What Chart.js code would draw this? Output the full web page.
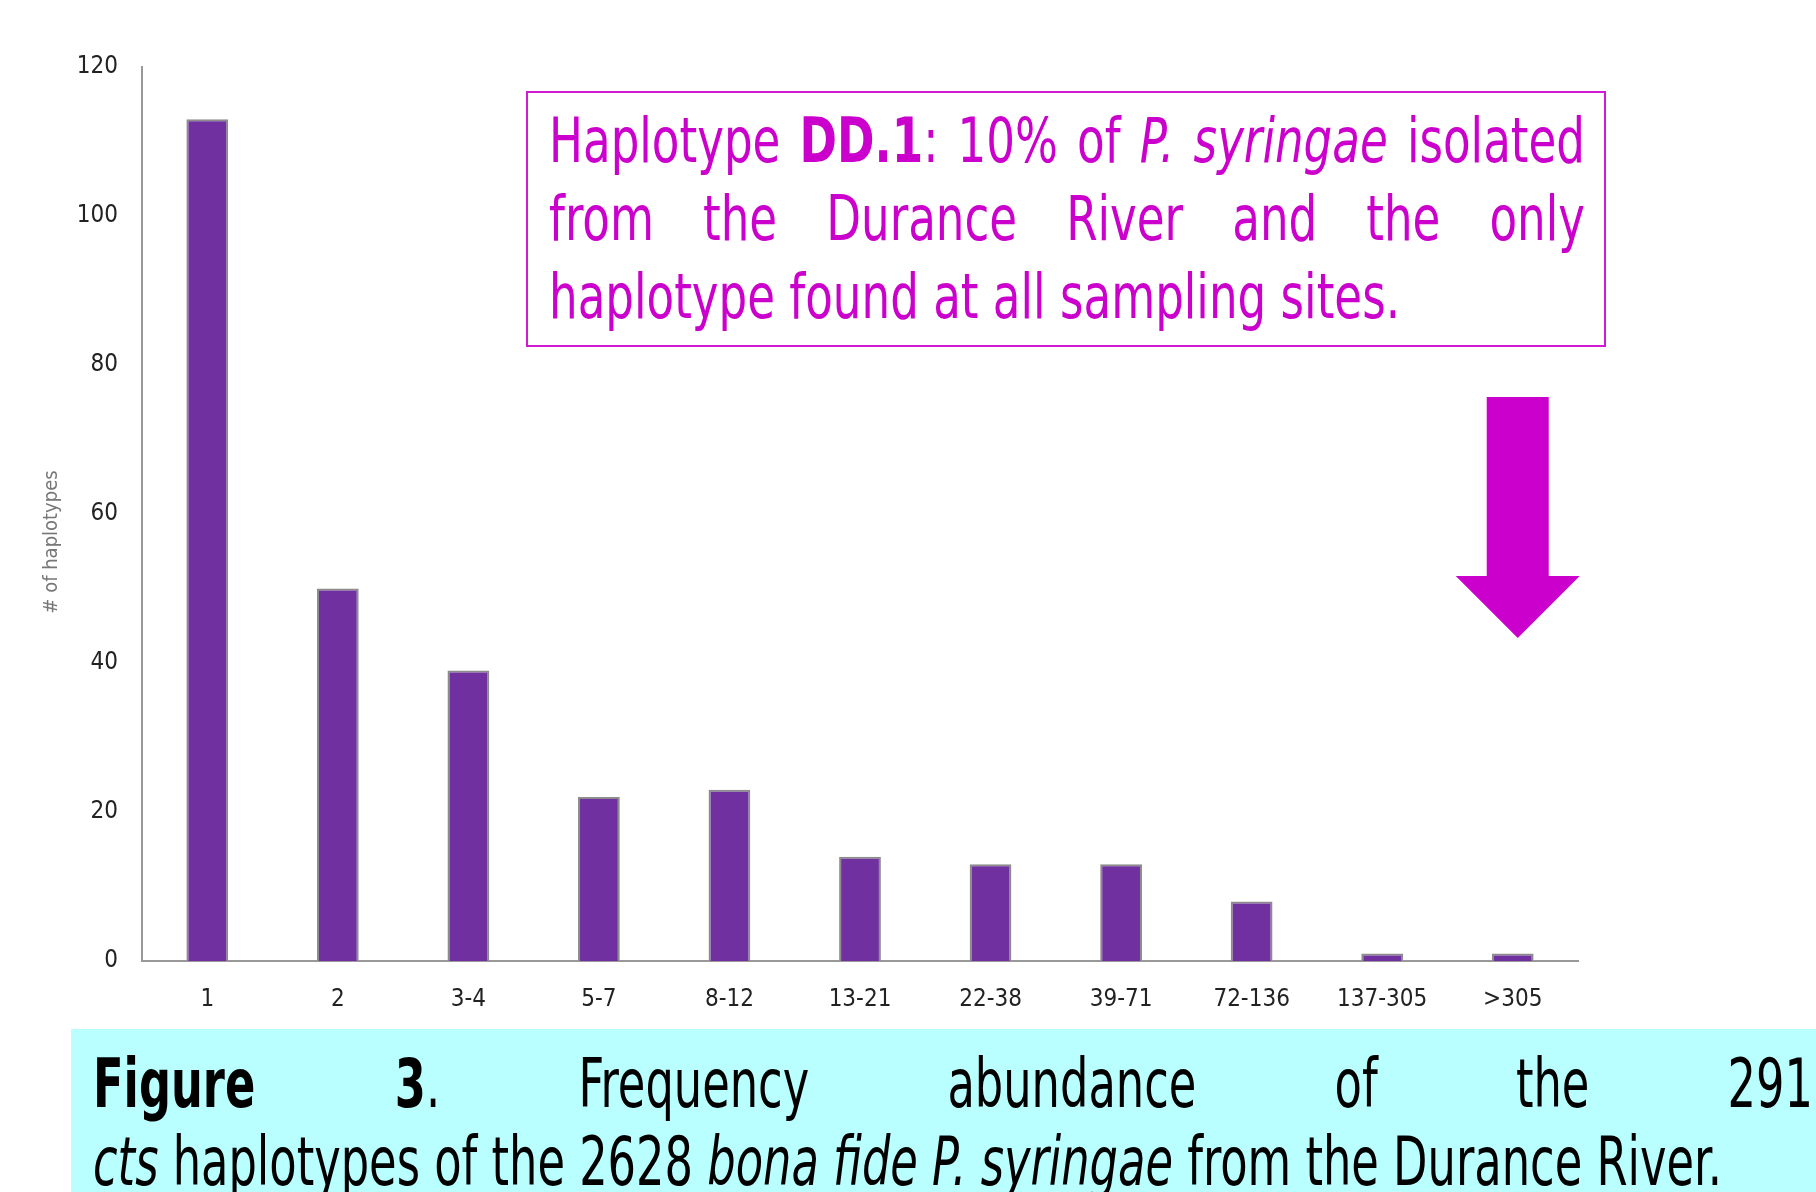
<!DOCTYPE html>
<html>
<head>
<meta charset="utf-8">
<script src="https://cdn.jsdelivr.net/npm/chart.js@4/dist/chart.umd.min.js"></script>
<style>
  html, body { margin: 0; padding: 0; background: #fff; }
  body { width: 1816px; height: 1192px; position: relative; overflow: hidden; }
  #wrap { position: absolute; left: 0; top: 0; width: 1816px; height: 1192px; }
  #note { position: absolute; left: 526px; top: 91px; width: 1080px; height: 256px;
          border: 2px solid #d21ad2; box-sizing: border-box; }
  #caption { position: absolute; left: 71px; top: 1029px; right: 0; bottom: 0; background: #b9ffff; }
  .ln { position: absolute; white-space: nowrap; line-height: 1; transform-origin: 0 0;
        font-family: "Liberation Sans Narrow", "DejaVu Sans Condensed", sans-serif; }
  .just { text-align: justify; text-align-last: justify; }
</style>
</head>
<body>
<div id="wrap"><canvas id="chart" width="1816" height="1192"></canvas></div>
<div id="note"></div>
<div id="caption"></div>
<script>
// abundance classes (# isolates per haplotype) and number of haplotypes in each
var categories = ['1', '2', '3-4', '5-7', '8-12', '13-21', '22-38', '39-71', '72-136', '137-305', '>305'];
var haplotypes = [113, 50, 39, 22, 23, 14, 13, 13, 8, 1, 1];
var yTicks = [0, 20, 40, 60, 80, 100, 120];
var yTitle = '# of haplotypes';

var noteLines = [
    'Haplotype <b>DD.1</b>: 10% of <i>P. syringae</i> isolated',
    'from the Durance River and the only',
    'haplotype found at all sampling sites.'
];
var captionLines = [
    '<b>Figure 3</b>. Frequency abundance of the 291',
    '<i>cts</i> haplotypes of the 2628 <i>bona fide P. syringae</i> from the Durance River.'
];

var FONT = '"Liberation Sans Narrow", "DejaVu Sans Condensed", sans-serif';

function measure(html, px) {
    var s = document.createElement('span');
    s.className = 'ln';
    s.style.fontSize = px + 'px';
    s.style.visibility = 'hidden';
    s.innerHTML = html;
    document.body.appendChild(s);
    var w = s.getBoundingClientRect().width;
    s.remove();
    return w;
}

// lay text lines out squeezed horizontally so they match the condensed face of the original
function placeLines(lines, opts) {
    var sx = opts.natWidth / measure(lines[opts.natIdx], opts.px);
    lines.forEach(function (html, i) {
        var d = document.createElement('div');
        d.className = 'ln' + (i < opts.justified ? ' just' : '');
        d.innerHTML = html;
        d.style.fontSize = opts.px + 'px';
        d.style.color = opts.color;
        d.style.left = opts.left + 'px';
        d.style.top = (opts.baselines[i] - 0.847 * opts.px) + 'px';
        if (i < opts.justified) d.style.width = (opts.width / sx) + 'px';
        d.style.transform = 'scaleX(' + sx + ')';
        document.body.appendChild(d);
    });
}

placeLines(noteLines, {
    px: 63, color: '#cc00cc', left: 549, width: 1036,
    baselines: [162, 240, 318], justified: 2, natIdx: 2, natWidth: 851
});
placeLines(captionLines, {
    px: 68, color: '#000', left: 93, width: 1720,
    baselines: [1108, 1186], justified: 1, natIdx: 1, natWidth: 1629
});

// y title (sits a bit below the middle of the axis in the original) and the pointer arrow
var extrasPlugin = {
    id: 'extras',
    afterDatasetsDraw: function (chart) {
        var ctx = chart.ctx;
        ctx.save();
        ctx.translate(52, 542);
        ctx.rotate(-Math.PI / 2);
        ctx.fillStyle = '#777';
        ctx.font = '20px ' + FONT;
        ctx.textAlign = 'center';
        ctx.textBaseline = 'middle';
        ctx.fillText(yTitle, 0, 0);
        ctx.restore();

        var cx = chart.scales.x.getPixelForValue(categories.length - 1) + 5;
        ctx.save();
        ctx.fillStyle = '#cc00cc';
        ctx.beginPath();
        ctx.moveTo(cx - 31, 397);
        ctx.lineTo(cx + 31, 397);
        ctx.lineTo(cx + 31, 576);
        ctx.lineTo(cx + 62, 576);
        ctx.lineTo(cx, 638);
        ctx.lineTo(cx - 62, 576);
        ctx.lineTo(cx - 31, 576);
        ctx.closePath();
        ctx.fill();
        ctx.restore();
    }
};

var ctx = document.getElementById('chart').getContext('2d');
new Chart(ctx, {
    type: 'bar',
    data: {
        labels: categories,
        datasets: [{
            label: yTitle,
            data: haplotypes,
            backgroundColor: '#7030a0',
            borderColor: '#8c8c8c',
            borderWidth: 2,
            barPercentage: 0.32,
            categoryPercentage: 1
        }]
    },
    options: {
        responsive: false,
        animation: false,
        devicePixelRatio: 1,
        layout: { padding: { left: 0, top: 67, right: 238, bottom: 0 } },
        plugins: { legend: { display: false }, tooltip: { enabled: false } },
        scales: {
            x: {
                grid: { display: false, drawTicks: false },
                border: { color: '#999', width: 2 },
                ticks: { color: '#222', padding: 24, font: { family: FONT, size: 24 }, maxRotation: 0 },
                afterFit: function (s) { s.height = 231; }
            },
            y: {
                min: 0, max: 120,
                afterBuildTicks: function (s) { s.ticks = yTicks.map(function (v) { return { value: v }; }); },
                grid: { display: false, drawTicks: false },
                border: { color: '#999', width: 2 },
                ticks: { color: '#222', padding: 24, font: { family: FONT, size: 24 } },
                afterFit: function (s) { s.width = 142; }
            }
        }
    },
    plugins: [extrasPlugin]
});
</script>
</body>
</html>
